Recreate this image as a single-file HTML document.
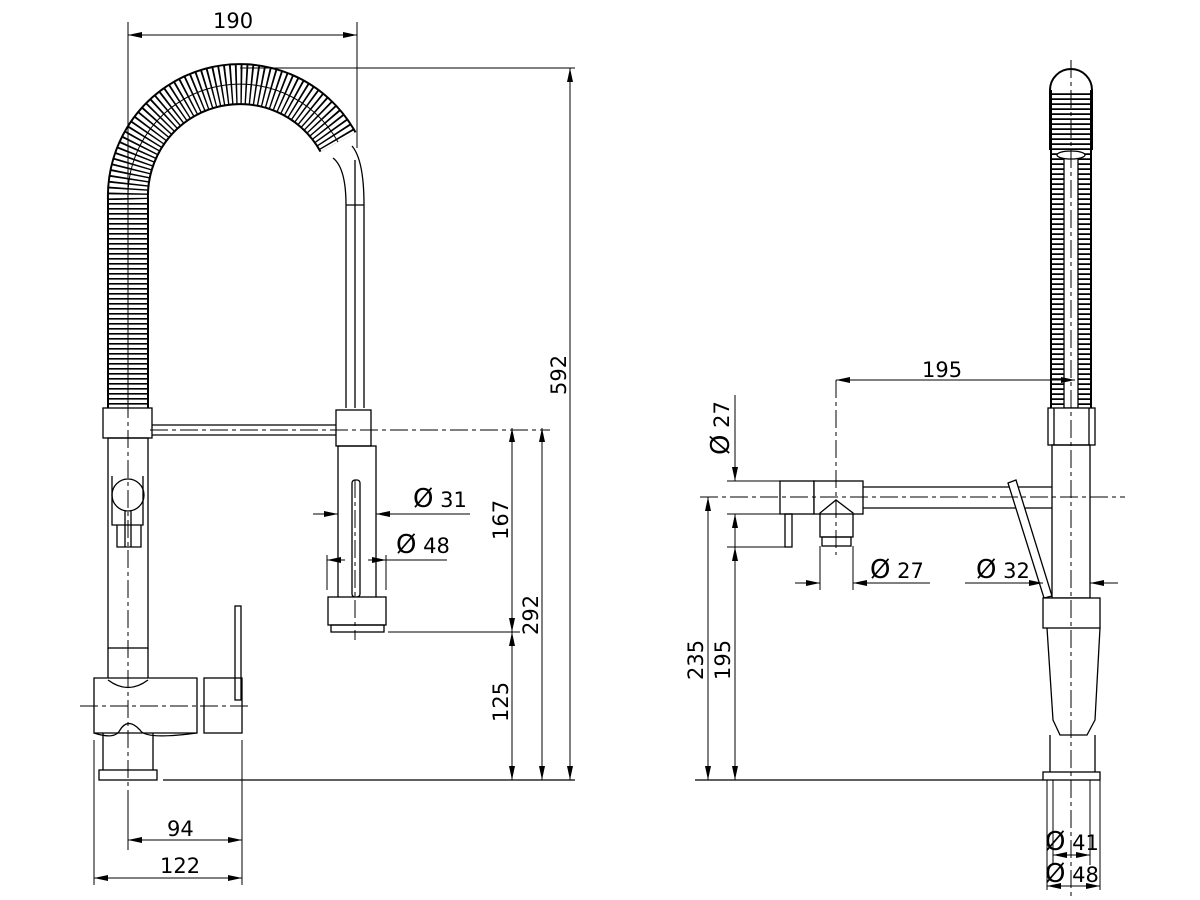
<!DOCTYPE html>
<html><head><meta charset="utf-8"><style>html,body{margin:0;padding:0;background:#fff}svg{display:block}</style></head><body>
<svg width="1200" height="900" viewBox="0 0 1200 900" xmlns="http://www.w3.org/2000/svg" font-family="'DejaVu Sans','Liberation Sans',sans-serif" font-size="21">
<defs>
<marker id="a" viewBox="0 0 14 6" refX="14" refY="3" markerWidth="14" markerHeight="6" orient="auto-start-reverse" markerUnits="userSpaceOnUse"><path d="M0,0L14,3L0,6z" fill="#000"/></marker>
</defs>
<g fill="none" stroke="#000" stroke-width="1.3">
<!-- LEFT coil -->
<path d="M128,408 L128,200 A112,112 0 0 1 338,142" stroke-width="42"/>
<path d="M128,408 L128,200 A112,112 0 0 1 338,142" stroke="#fff" stroke-width="38" stroke-dasharray="3.4 1.6"/>
<path d="M128,408 L128,200 A112,112 0 0 1 338,142" stroke-width="1"/>
<!-- spout pipe -->
<path d="M333,158 Q346,168 346,205 L346,408 M352,146 Q364,160 364,205 L364,408 M355,160 L355,408 M346,205 L364,205"/>
<!-- left body -->
<rect x="103" y="408" width="49" height="30" fill="#fff"/>
<rect x="108" y="438" width="40" height="210"/>
<path d="M152,425 H337 M152,435 H337"/>
<circle cx="128" cy="495" r="16" fill="#fff"/>
<path d="M112,476 V525 H143 V476 M117,525 V547 H141 V525 M125,510 V547 M131,510 V547"/>
<!-- spray head -->
<rect x="336" y="410" width="35" height="36" fill="#fff"/>
<rect x="338" y="446" width="38" height="152"/>
<rect x="352" y="480" width="8" height="117" rx="3"/>
<rect x="328" y="597" width="58" height="28" fill="#fff"/>
<rect x="331" y="625" width="53" height="7"/>
<!-- base -->
<path d="M108,648 V680 Q128,695 148,680 V648"/>
<path d="M94,678 H197 V733 H94 Z" fill="#fff"/>
<path d="M108,680 Q128,695 148,680"/>
<path d="M94,733 Q115,740 120,730 Q128,717 140,730 Q145,740 197,733"/>
<rect x="204" y="678" width="38" height="55"/>
<rect x="235" y="606" width="6" height="94"/>
<path d="M103,733 V770 M153,733 V770"/>
<rect x="99" y="770" width="58" height="10"/>
<!-- centerlines left -->
<path d="M128,400 V790 M355,480 V640 M80,706 H250 M150,430 H550" stroke-width="1" stroke-dasharray="18 4 4 4"/>
<!-- floor -->
<path d="M163,780 H575"/>
<path d="M240,68 H575" stroke-width="1"/>
<!-- dims left -->
<path d="M128,22 V400 M357,22 V148" stroke-width="1"/>
<path d="M128,35 H357" stroke-width="1" marker-start="url(#a)" marker-end="url(#a)"/>
<path d="M570,68 V780" stroke-width="1" marker-start="url(#a)" marker-end="url(#a)"/>
<path d="M542,428 V780" stroke-width="1" marker-start="url(#a)" marker-end="url(#a)"/>
<path d="M512,428 V632" stroke-width="1" marker-start="url(#a)" marker-end="url(#a)"/>
<path d="M512,632 V780" stroke-width="1" marker-start="url(#a)" marker-end="url(#a)"/>
<path d="M388,632 H520" stroke-width="1"/>
<path d="M94,740 V885 M242,740 V885" stroke-width="1"/>
<path d="M128,790 V850" stroke-width="1"/>
<path d="M128,840 H242" stroke-width="1" marker-start="url(#a)" marker-end="url(#a)"/>
<path d="M94,878 H242" stroke-width="1" marker-start="url(#a)" marker-end="url(#a)"/>
<path d="M400,514 H470" stroke-width="1"/>
<path d="M313,514 H338" stroke-width="1" marker-end="url(#a)"/>
<path d="M400,514 H376" stroke-width="1" marker-end="url(#a)"/>
<path d="M327,555 V590 M386,555 V590" stroke-width="1"/>
<path d="M327,560 H345" stroke-width="1" marker-start="url(#a)"/>
<path d="M368,560 H386" stroke-width="1" marker-end="url(#a)"/>
<path d="M386,560 H447" stroke-width="1"/>

<!-- RIGHT view -->
<path d="M1071,90 V408" stroke-width="42"/>
<path d="M1071,90 V408" stroke="#fff" stroke-width="38" stroke-dasharray="3.2 1.8"/>
<path d="M1050,150 V90 A21,21 0 0 1 1092,90 V150" stroke-width="2"/>
<rect x="1064" y="155" width="14" height="253" fill="#fff"/>
<ellipse cx="1071" cy="155" rx="14" ry="4" fill="#fff"/>
<rect x="1048" y="408" width="47" height="37" fill="#fff"/>
<path d="M1054,408 V445 M1089,408 V445"/>
<rect x="1052" y="445" width="38" height="153"/>
<rect x="780" y="481" width="34" height="33" fill="#fff"/>
<rect x="814" y="481" width="49" height="33" fill="#fff"/>
<path d="M863,487 H1052 M863,508 H1052"/>
<rect x="785" y="514" width="7" height="33"/>
<path d="M820,537 V513 L836,500 L853,513 V537 Z"/>
<rect x="822" y="537" width="29" height="9"/>
<path d="M1008,483 L1016,480 L1052,596 L1044,598 Z" fill="#fff"/>
<rect x="1043" y="598" width="57" height="30" fill="#fff"/>
<path d="M1047,628 L1053,720 L1060,735 H1087 L1095,720 L1100,628"/>
<path d="M1050,735 V772 M1095,735 V772"/>
<rect x="1043" y="772" width="57" height="8"/>
<path d="M1071,60 V900 M700,497 H1125 M836,380 V555" stroke-width="1" stroke-dasharray="18 4 4 4"/>
<path d="M695,780 H1043"/>
<!-- right dims -->
<path d="M836,380 H1075" stroke-width="1" marker-start="url(#a)" marker-end="url(#a)"/>
<path d="M727,481 H780 M727,514 H780 M727,547 H785" stroke-width="1"/>
<path d="M735,395 V481" stroke-width="1" marker-end="url(#a)"/>
<path d="M735,547 V514" stroke-width="1" marker-end="url(#a)"/>
<path d="M708,497 V780" stroke-width="1" marker-start="url(#a)" marker-end="url(#a)"/>
<path d="M735,547 V780" stroke-width="1" marker-start="url(#a)" marker-end="url(#a)"/>
<path d="M820,546 V590 M853,546 V590" stroke-width="1"/>
<path d="M795,583 H820" stroke-width="1" marker-end="url(#a)"/>
<path d="M878,583 H853" stroke-width="1" marker-end="url(#a)"/>
<path d="M853,583 H930" stroke-width="1"/>
<path d="M965,583 H1043" stroke-width="1" marker-end="url(#a)"/>
<path d="M1118,583 H1090" stroke-width="1" marker-end="url(#a)"/>
<path d="M1047,780 V890 M1100,780 V890 M1053,780 V865 M1090,780 V865" stroke-width="1"/>
<path d="M1053,855 H1090" stroke-width="1" marker-start="url(#a)" marker-end="url(#a)"/>
<path d="M1047,886 H1100" stroke-width="1" marker-start="url(#a)" marker-end="url(#a)"/>
</g>
<g fill="#000">
<text x="213" y="28">190</text>
<text x="167" y="836">94</text>
<text x="160" y="873">122</text>
<text x="413" y="507"><tspan font-size="26">Ø</tspan> 31</text>
<text x="396" y="553"><tspan font-size="26">Ø</tspan> 48</text>
<text transform="translate(508,540) rotate(-90)">167</text>
<text transform="translate(538,635) rotate(-90)">292</text>
<text transform="translate(508,722) rotate(-90)">125</text>
<text transform="translate(566,395) rotate(-90)">592</text>
<text x="922" y="377">195</text>
<text transform="translate(729,455) rotate(-90)"><tspan font-size="26">Ø</tspan> 27</text>
<text transform="translate(703,680) rotate(-90)">235</text>
<text transform="translate(730,680) rotate(-90)">195</text>
<text x="870" y="578"><tspan font-size="26">Ø</tspan> 27</text>
<text x="976" y="578"><tspan font-size="26">Ø</tspan> 32</text>
<text x="1045" y="850"><tspan font-size="26">Ø</tspan> 41</text>
<text x="1045" y="882"><tspan font-size="26">Ø</tspan> 48</text>
</g>
</svg>
</body></html>
